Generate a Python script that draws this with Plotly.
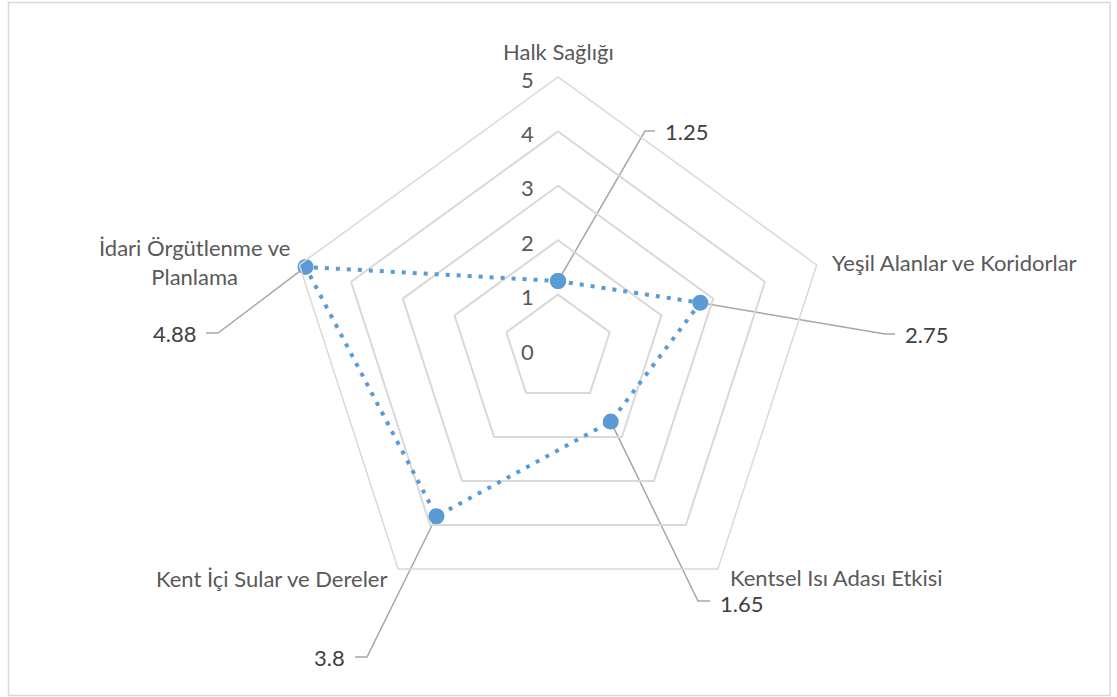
import math
import plotly.graph_objects as go

# --- data -------------------------------------------------------------
categories = [
    "Halk Sağlığı",
    "Yeşil Alanlar ve Koridorlar",
    "Kentsel Isı Adası Etkisi",
    "Kent İçi Sular ve Dereler",
    "İdari Örgütlenme ve<br>Planlama",
]
scores = [1.25, 2.75, 1.65, 3.8, 4.88]
radial_ticks = [0, 1, 2, 3, 4, 5]

# --- layout geometry (pixels) ----------------------------------------
W, H = 1117, 697
CX, CY = 558, 349          # centre of the radar
UNIT = 54.4                # pixels per score unit
R_MAX = 5

FONT = "Lato"
GRID = "#D9D9D9"
BLUE = "#5B9BD5"
LEADER = "#A6A6A6"


def px_to_xy(px, py):
    """Convert a page pixel into the overlay axis units (origin at centre)."""
    return (px - CX) / UNIT, (CY - py) / UNIT


# leader elbow, leader end and text anchor for each data label (pixels)
label_layout = [
    dict(elbow=(645, 131), end=(655, 131), text=(663, 131), anchor="left"),
    dict(elbow=(885, 334), end=(895, 334), text=(903, 334), anchor="left"),
    dict(elbow=(698, 601), end=(710, 601), text=(718, 603), anchor="left"),
    dict(elbow=(367, 657), end=(355, 657), text=(347, 657), anchor="right"),
    dict(elbow=(218, 333), end=(206, 333), text=(198, 333), anchor="right"),
]

# category label anchors (pixels)
cat_layout = [
    dict(pos=(558, 51), xanchor="center"),
    dict(pos=(830, 262), xanchor="left"),
    dict(pos=(728, 577), xanchor="left"),
    dict(pos=(389, 578), xanchor="right"),
    dict(pos=(194, 262), xanchor="center"),
]

fig = go.Figure()

# leader lines from each point to its value label
n = len(categories)
lx, ly = [], []
for i, (v, lay) in enumerate(zip(scores, label_layout)):
    ang = math.radians(i * 360 / n)
    x0, y0 = v * math.sin(ang), v * math.cos(ang)
    x1, y1 = px_to_xy(*lay["elbow"])
    x2, y2 = px_to_xy(*lay["end"])
    lx += [x0, x1, x2, None]
    ly += [y0, y1, y2, None]
fig.add_trace(go.Scatter(
    x=lx, y=ly, mode="lines",
    line=dict(color=LEADER, width=1.5),
    hoverinfo="skip", showlegend=False,
))

# radar series
fig.add_trace(go.Scatterpolar(
    r=scores + scores[:1],
    theta=categories + categories[:1],
    mode="lines+markers",
    line=dict(color=BLUE, width=4, dash="4px,7px"),
    marker=dict(color=BLUE, size=16),
    hoverinfo="skip",
    showlegend=False,
    subplot="polar",
))

annotations = []
# value labels
for v, lay in zip(scores, label_layout):
    tx, ty = px_to_xy(*lay["text"])
    annotations.append(dict(
        x=tx, y=ty, xref="x", yref="y", text=f"{v:g}", showarrow=False,
        xanchor=lay["anchor"], yanchor="middle",
        font=dict(family=FONT, size=22, color="#404040"),
    ))
# category labels
for cat, lay in zip(categories, cat_layout):
    tx, ty = px_to_xy(*lay["pos"])
    annotations.append(dict(
        x=tx, y=ty, xref="x", yref="y", text=cat, showarrow=False,
        xanchor=lay["xanchor"], yanchor="middle", align="center",
        font=dict(family=FONT, size=22, color="#595959"),
    ))
# radial tick labels along the top spoke
for t in radial_ticks:
    annotations.append(dict(
        x=-22 / UNIT, y=t - 2 / UNIT, xref="x", yref="y", text=str(t),
        showarrow=False, xanchor="right", yanchor="middle",
        font=dict(family=FONT, size=22, color="#595959"),
    ))

fig.update_layout(
    width=W, height=H,
    margin=dict(l=0, r=0, t=0, b=0),
    paper_bgcolor="white",
    plot_bgcolor="rgba(0,0,0,0)",
    showlegend=False,
    polar=dict(
        domain=dict(
            x=[(CX - R_MAX * UNIT) / W, (CX + R_MAX * UNIT) / W],
            y=[(H - CY - R_MAX * UNIT) / H, (H - CY + R_MAX * UNIT) / H],
        ),
        gridshape="linear",
        bgcolor="rgba(0,0,0,0)",
        radialaxis=dict(
            range=[0, R_MAX], tickvals=radial_ticks[1:],
            showticklabels=False, ticks="", showline=False,
            gridcolor=GRID, gridwidth=1.5,
        ),
        angularaxis=dict(
            rotation=90, direction="clockwise",
            showgrid=False, showticklabels=False, ticks="",
            showline=True, linecolor=GRID, linewidth=1.5,
        ),
    ),
    xaxis=dict(
        range=[-CX / UNIT, (W - CX) / UNIT], visible=False, fixedrange=True,
    ),
    yaxis=dict(
        range=[(CY - H) / UNIT, CY / UNIT], visible=False, fixedrange=True,
    ),
    annotations=annotations,
    shapes=[dict(
        type="rect", xref="paper", yref="paper",
        x0=8.5 / W, x1=1110 / W, y0=1 - 695.5 / H, y1=1 - 2.5 / H,
        line=dict(color=GRID, width=1.5), fillcolor="rgba(0,0,0,0)",
    )],
)

fig.write_html("out.html")
